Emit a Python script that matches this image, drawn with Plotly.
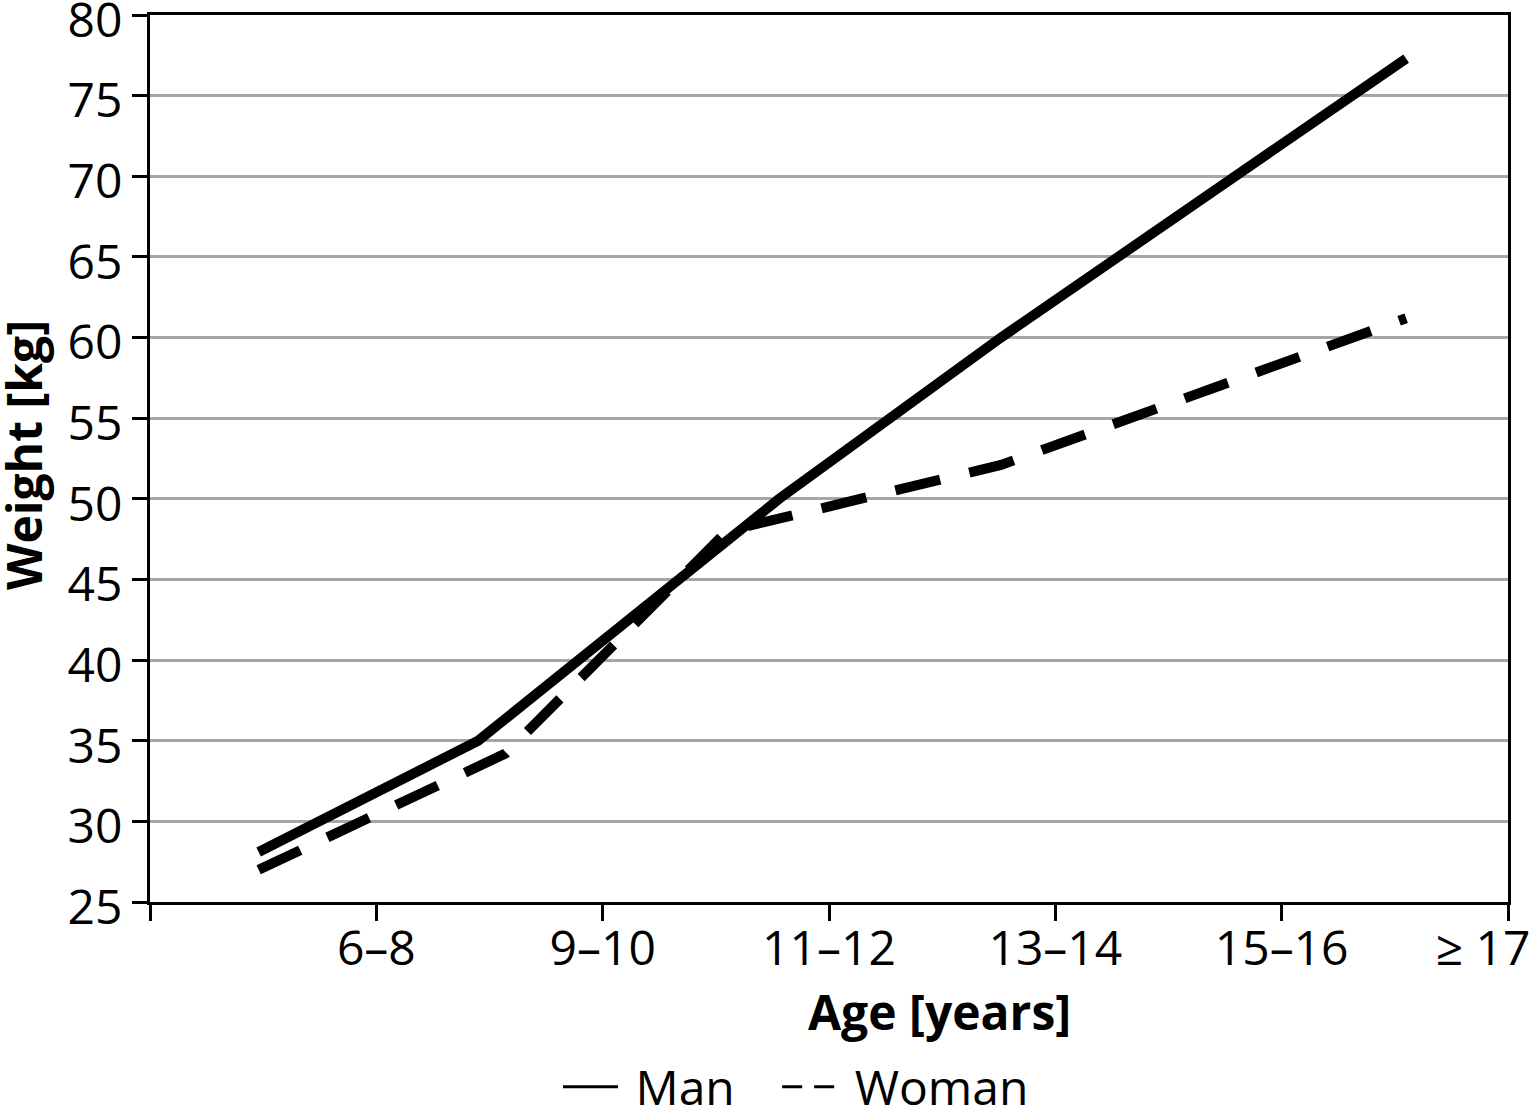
import plotly.graph_objects as go

# Category labels placed at the axis ticks (boundaries between the plotted groups)
tick_labels = ["", "6–8", "9–10", "11–12", "13–14", "15–16", "≥ 17" + "\u00a0" * 4]
tick_positions = [0, 1, 2, 3, 4, 5, 6]

# Series (x in category-axis units, y in kg)
man_x = [0.48, 1.45, 2.78, 3.76, 5.55]
man_y = [28.1, 35.0, 50.0, 60.0, 77.3]

woman_x = [0.48, 1.57, 2.55, 3.76, 5.55]
woman_y = [27.0, 34.2, 48.0, 52.1, 61.2]

y_ticks = [25, 30, 35, 40, 45, 50, 55, 60, 65, 70, 75, 80]

FONT = "Open Sans"
NB = "\u00a0"

fig = go.Figure()
fig.add_trace(go.Scatter(x=man_x, y=man_y, mode="lines", name="Man", showlegend=False,
                         line=dict(color="black", width=10)))
fig.add_trace(go.Scatter(x=woman_x, y=woman_y, mode="lines", name="Woman", showlegend=False,
                         line=dict(color="black", width=10, dash="46px,30px")))
# legend entries with thin sample lines (no data drawn)
fig.add_trace(go.Scatter(x=[None], y=[None], mode="lines", name=NB + "Man" + NB * 3,
                         line=dict(color="black", width=3)))
fig.add_trace(go.Scatter(x=[None], y=[None], mode="lines", name=NB + "Woman",
                         line=dict(color="black", width=3, dash="20px,12px")))

fig.update_layout(
    width=1533, height=1112,
    margin=dict(l=150, r=25, t=15, b=210),
    paper_bgcolor="white", plot_bgcolor="white",
    font=dict(family=FONT, color="black", size=48),
    showlegend=True,
    legend=dict(orientation="h", xref="container", yref="container",
                x=(558 / 1533), xanchor="left", y=1 - 1087 / 1112, yanchor="middle",
                font=dict(size=48), itemwidth=55, tracegroupgap=0,
                bgcolor="rgba(0,0,0,0)"),
    xaxis=dict(
        range=[0, 6], tickmode="array", tickvals=tick_positions, ticktext=tick_labels,
        showgrid=False, zeroline=False, automargin=False,
        showline=True, linecolor="black", linewidth=3, mirror=True,
        ticks="outside", ticklen=16, tickwidth=3, tickcolor="black",
        tickfont=dict(size=48), ticklabeloverflow="allow", ticklabelstandoff=-14,
    ),
    yaxis=dict(
        range=[25, 80], tickmode="array", tickvals=y_ticks,
        showgrid=True, gridcolor="#a6a6a6", gridwidth=3, zeroline=False, automargin=False,
        showline=True, linecolor="black", linewidth=3, mirror=True,
        ticks="outside", ticklen=15, tickwidth=3, tickcolor="black",
        tickfont=dict(size=48), ticklabeloverflow="allow", ticklabelshift=5,
    ),
    annotations=[
        dict(text="<b>Weight [kg]</b>", xref="paper", yref="paper",
             x=-0.0928, y=0.504, xanchor="center", yanchor="middle",
             textangle=-90, showarrow=False, font=dict(size=48)),
        dict(text="<b>Age [years]</b>", xref="paper", yref="paper",
             x=0.5817, y=-0.124, xanchor="center", yanchor="middle",
             showarrow=False, font=dict(size=48)),
    ],
)

# remove the default page margin so the 1533x1112 figure fills the window exactly
fig.write_html("out.html", config={"displayModeBar": False},
               post_script="document.body.style.margin='0px';")
